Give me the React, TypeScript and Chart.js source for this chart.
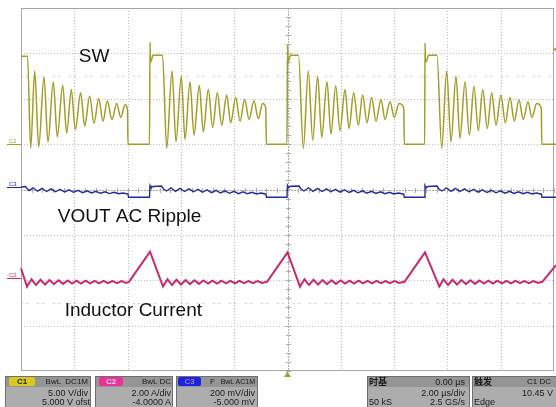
import React, { useEffect, useRef } from "react";
import { Chart, registerables } from "chart.js";

Chart.register(...registerables);

// ---- axes (µs and divisions) ----
const timeGrid = [-10, -8, -6, -4, -2, 0, 2, 4, 6, 8, 10]; // 2 µs/div
const divGrid = [-4, -3, -2, -1, 0, 1, 2, 3, 4];

// ---- channel settings ----
const c1VoltsPerDiv = 5; // SW
const c1GroundDiv = 1;
const c2AmpsPerDiv = 2; // inductor current
const c2OffsetA = -4;
const c3MvPerDiv = 200; // VOUT AC
const triggerLevelV = 10.45;

// ---- SW node voltage (C1) ----
const swTime = [
  -10.0, -9.756, -9.636, -9.486, -9.336, -9.137, -8.987, -8.788, -8.638, -8.435, -8.285, -8.113, -7.962, -7.76, -7.61,
  -7.422, -7.261, -7.084, -6.923, -6.762, -6.585, -6.409, -6.259, -6.086, -6.005, -5.985, -5.178,
  -5.159, -5.141, -5.084, -5.047, -4.69, -4.533, -4.334, -4.184, -3.985, -3.846, -3.659, -3.508, -3.31, -3.159, -2.972,
  -2.807, -2.634, -2.469, -2.281, -2.131, -1.944, -1.782, -1.606, -1.445, -1.257, -1.096, -0.931, -0.814, -0.795, -0.019,
  0.0, 0.019, 0.075, 0.113, 0.413, 0.593, 0.78, 0.946, 1.133, 1.283, 1.482, 1.632, 1.809, 1.97, 2.158, 2.308, 2.484,
  2.657, 2.822, 2.983, 3.159, 3.321, 3.508, 3.659, 3.846, 4.008, 4.184, 4.364, 4.383, 5.148,
  5.159, 5.178, 5.235, 5.291, 5.61, 5.786, 5.974, 6.135, 6.323, 6.473, 6.66, 6.822, 6.998, 7.16, 7.325, 7.497, 7.662,
  7.824, 8.011, 8.173, 8.349, 8.51, 8.687, 8.848, 9.024, 9.174, 9.351, 9.523, 9.542, 10.075,
];
const swVolt = [
  9.69, 9.69, -0.44, 8.07, -0.3, 7.41, 0.25, 6.86, 0.8, 6.5, 1.21, 6.02, 1.62, 5.65, 1.98, 5.29, 2.28, 5.03, 2.53, 4.74,
  2.72, 4.48, 2.94, 4.37, 3.74, 0, 0,
  11.23, 9.03, 9.47, 9.8, 9.8, -0.47, 8.07, 0.25, 7.49, 0.52, 6.86, 0.99, 6.5, 1.35, 6.02, 1.84, 5.65, 2.09, 5.4, 2.35,
  5.14, 2.53, 4.92, 2.72, 4.77, 2.79, 4.48, 3.96, 0, 0,
  10.9, 9.03, 9.47, 9.8, 9.8, -0.47, 8.07, 0.44, 7.49, 0.74, 6.86, 1.1, 6.42, 1.46, 6.02, 1.73, 5.65, 2.09, 5.4, 2.35,
  5.14, 2.53, 4.92, 2.72, 4.66, 2.94, 4.48, 3.96, 0, 0,
  11.16, 9.03, 9.25, 9.8, 9.8, -0.47, 8.07, 0.25, 7.49, 0.63, 6.86, 0.99, 6.39, 1.46, 6.02, 1.73, 5.65, 2.09, 5.4, 2.35,
  5.14, 2.53, 4.85, 2.72, 4.66, 2.94, 4.48, 3.96, 0, 0,
];

// ---- VOUT AC ripple (C3), mV ----
const voutTime = [
  -10.0, -9.831, -9.775, -9.7, -9.55, -9.381, -9.212, -9.043, -8.874, -8.705, -8.537, -8.368, -8.199, -8.03, -7.861,
  -7.692, -7.523, -7.355, -7.186, -7.017, -6.848, -6.679, -6.51, -6.341, -6.173, -5.985, -5.966, -5.178,
  -5.159, -5.122, -5.047, -4.728, -4.653, -4.54, -4.371, -4.203, -4.034, -3.865, -3.696, -3.527, -3.358, -3.189, -3.021,
  -2.852, -2.683, -2.514, -2.345, -2.176, -2.008, -1.839, -1.67, -1.501, -1.332, -1.163, -0.994, -0.807, -0.788, -0.019,
  0.0, 0.038, 0.113, 0.432, 0.507, 0.619, 0.788, 0.957, 1.126, 1.295, 1.463, 1.632, 1.801, 1.97, 2.139, 2.308, 2.477,
  2.645, 2.814, 2.983, 3.152, 3.321, 3.49, 3.659, 3.827, 3.996, 4.165, 4.364, 4.383, 5.148,
  5.159, 5.197, 5.272, 5.61, 5.685, 5.797, 5.966, 6.135, 6.304, 6.473, 6.642, 6.811, 6.979, 7.148, 7.317, 7.486, 7.655,
  7.824, 7.992, 8.161, 8.33, 8.499, 8.668, 8.837, 9.006, 9.174, 9.343, 9.531, 9.55, 10.075,
];
const voutMv = [
  11.0, 13.2, 4.4, -4.4, 7.5, -7.5, 5.3, -8.8, 3.1, -10.1, 0.9, -11.0, -1.3, -12.3, -3.5, -13.7, -5.7, -15.4, -7.9,
  -16.7, -10.1, -18.1, -12.3, -18.9, -15.4, -19.8, -34.4, -34.4,
  17.6, 8.8, 13.2, 15.4, 2.2, -6.6, 7.5, -7.9, 5.3, -8.8, 3.1, -10.1, 0.9, -12.3, -1.3, -13.7, -3.5, -15.4, -5.7, -16.7,
  -7.9, -18.1, -10.1, -18.9, -12.3, -19.8, -15.4, -20.7, -34.4, -34.4,
  17.6, 8.8, 14.1, 15.4, 2.2, -6.6, 7.5, -7.9, 5.3, -8.8, 3.1, -10.1, 0.9, -11.9, -1.3, -13.2, -3.5, -14.5, -5.7, -16.3,
  -7.9, -17.6, -10.1, -18.5, -12.3, -19.8, -15.4, -20.7, -34.4, -34.4,
  17.6, 8.8, 13.2, 15.4, 2.2, -6.6, 7.5, -7.9, 5.3, -8.8, 3.1, -10.1, 0.9, -11.9, -1.3, -13.2, -3.5, -14.5, -5.7, -16.3,
  -7.9, -17.6, -10.1, -18.5, -12.3, -19.8, -15.4, -20.7, -34.4, -34.4,
];

// ---- Inductor current (C2), A ----
const ilTime = [
  -10.0, -9.775, -9.606, -9.437, -9.268, -9.099, -8.931, -8.762, -8.593, -8.424, -8.255, -8.086, -7.917, -7.749, -7.58,
  -7.411, -7.242, -7.073, -6.904, -6.735, -6.567, -6.398, -6.229, -6.06, -5.947,
  -5.159, -4.672, -4.503, -4.334, -4.165, -3.996, -3.827, -3.659, -3.49, -3.321, -3.152, -2.983, -2.814, -2.645, -2.477,
  -2.308, -2.139, -1.97, -1.801, -1.632, -1.463, -1.295, -1.126, -0.957, -0.769,
  0.0, 0.469, 0.638, 0.807, 0.976, 1.144, 1.313, 1.482, 1.651, 1.82, 1.989, 2.158, 2.326, 2.495, 2.664, 2.833, 3.002,
  3.171, 3.34, 3.508, 3.677, 3.846, 4.015, 4.184, 4.39,
  5.159, 5.696, 5.854, 6.023, 6.191, 6.36, 6.529, 6.698, 6.867, 7.036, 7.205, 7.373, 7.542, 7.711, 7.88, 8.049, 8.218,
  8.386, 8.555, 8.724, 8.893, 9.062, 9.231, 9.4, 9.561, 10.075,
];
const ilAmp = [
  0.53, -0.28, 0.04, -0.21, 0.02, -0.19, 0.01, -0.17, 0.0, -0.16, -0.01, -0.15, -0.02, -0.15, -0.02, -0.14, -0.03,
  -0.14, -0.03, -0.13, -0.04, -0.13, -0.04, -0.12, -0.07,
  1.26, -0.28, 0.04, -0.21, 0.02, -0.19, 0.01, -0.17, 0.0, -0.16, -0.01, -0.15, -0.02, -0.15, -0.02, -0.14, -0.03,
  -0.14, -0.03, -0.13, -0.04, -0.13, -0.04, -0.12, -0.07,
  1.23, -0.28, 0.04, -0.21, 0.02, -0.19, 0.01, -0.17, 0.0, -0.16, -0.01, -0.15, -0.02, -0.15, -0.02, -0.14, -0.03,
  -0.14, -0.03, -0.13, -0.04, -0.13, -0.04, -0.12, -0.07,
  1.23, -0.28, 0.04, -0.21, 0.02, -0.19, 0.01, -0.17, 0.0, -0.16, -0.01, -0.15, -0.02, -0.15, -0.02, -0.14, -0.03,
  -0.14, -0.03, -0.13, -0.04, -0.13, -0.04, -0.12, -0.07, 0.67,
];

// ---- labels ----
const traceLabels = [
  { text: "SW", t: -7.83, div: 2.81 },
  { text: "VOUT AC Ripple", t: -8.62, div: -0.71 },
  { text: "Inductor Current", t: -8.36, div: -2.78 },
];

const COL_SW = "#a49c26";
const COL_VOUT = "#1f2d9c";
const COL_IL = "#c82a70";

const scopePlugin = {
  id: "scopeGrid",
  beforeDatasetsDraw(chart: any) {
    const { ctx, chartArea: a, scales } = chart;
    const xs = scales.x;
    const ys = scales.y;
    const px = (v: number) => Math.round(xs.getPixelForValue(v)) + 0.5;
    const py = (v: number) => Math.round(ys.getPixelForValue(v)) + 0.5;
    ctx.save();
    ctx.lineWidth = 1;
    // inner dotted grid
    ctx.strokeStyle = "#bdbdbd";
    ctx.setLineDash([1, 2]);
    timeGrid.slice(1, -1).forEach((t) => {
      if (t === 0) return;
      ctx.beginPath();
      ctx.moveTo(px(t), a.top);
      ctx.lineTo(px(t), a.bottom);
      ctx.stroke();
    });
    divGrid.slice(1, -1).forEach((d) => {
      if (d === 0) return;
      ctx.beginPath();
      ctx.moveTo(a.left, py(d));
      ctx.lineTo(a.right, py(d));
      ctx.stroke();
    });
    // half division dashed guides
    ctx.strokeStyle = "#cfcfcf";
    ctx.setLineDash([2, 3, 2, 9]);
    [2.5, -2.5].forEach((d) => {
      ctx.beginPath();
      ctx.moveTo(a.left, py(d));
      ctx.lineTo(a.right, py(d));
      ctx.stroke();
    });
    // center cross
    ctx.strokeStyle = "#ababab";
    ctx.setLineDash([2, 1]);
    ctx.beginPath();
    ctx.moveTo(px(0), a.top);
    ctx.lineTo(px(0), a.bottom);
    ctx.moveTo(a.left, py(0));
    ctx.lineTo(a.right, py(0));
    ctx.stroke();
    ctx.setLineDash([]);
    ctx.beginPath();
    for (let d = -4; d <= 4.001; d += 0.2) {
      const y = py(d);
      ctx.moveTo(px(0) - 2.5, y);
      ctx.lineTo(px(0) + 2.5, y);
    }
    for (let t = -10; t <= 10.001; t += 0.4) {
      const x = px(t);
      ctx.moveTo(x, py(0) - 2.5);
      ctx.lineTo(x, py(0) + 2.5);
    }
    ctx.stroke();
    // border
    ctx.strokeStyle = "#a6a6a6";
    ctx.strokeRect(Math.round(a.left) + 0.5, Math.round(a.top) + 0.5, Math.round(a.right - a.left) - 1, Math.round(a.bottom - a.top) - 1);
    ctx.restore();
  },
  afterDraw(chart: any) {
    const { ctx, chartArea: a, scales } = chart;
    const xs = scales.x;
    const ys = scales.y;
    ctx.save();
    // trace annotations
    ctx.fillStyle = "#111";
    ctx.font = '19px "Liberation Sans", Arial, sans-serif';
    ctx.textBaseline = "alphabetic";
    traceLabels.forEach((l) => ctx.fillText(l.text, xs.getPixelForValue(l.t), ys.getPixelForValue(l.div)));
    // channel markers
    const markers = [
      { name: "C1", div: c1GroundDiv, color: COL_SW },
      { name: "C3", div: 0.05, color: COL_VOUT },
      { name: "C2", div: -c2OffsetA / -c2AmpsPerDiv + 0.05, color: COL_IL },
    ];
    ctx.font = '6px "Liberation Sans", Arial, sans-serif';
    markers.forEach((m) => {
      const y = Math.round(ys.getPixelForValue(m.div)) + 0.5;
      ctx.fillStyle = m.color;
      ctx.fillText(m.name, 9, y - 2);
      ctx.strokeStyle = m.color;
      ctx.lineWidth = 1;
      ctx.beginPath();
      ctx.moveTo(7, y);
      ctx.lineTo(a.left, y);
      ctx.stroke();
    });
    // trigger position (bottom) and level (right)
    ctx.fillStyle = "#a59c22";
    const tx = xs.getPixelForValue(0);
    ctx.beginPath();
    ctx.moveTo(tx, a.bottom + 0.5);
    ctx.lineTo(tx - 3.5, a.bottom + 6);
    ctx.lineTo(tx + 3.5, a.bottom + 6);
    ctx.closePath();
    ctx.fill();
    const ly = ys.getPixelForValue(c1GroundDiv + triggerLevelV / c1VoltsPerDiv);
    ctx.beginPath();
    ctx.moveTo(a.right - 1, ly);
    ctx.lineTo(a.right + 3, ly - 2.5);
    ctx.lineTo(a.right + 3, ly + 2.5);
    ctx.closePath();
    ctx.fill();
    ctx.restore();
  },
};

const pts = (ts: number[], vs: number[], f: (v: number) => number) => ts.map((t, i) => ({ x: t, y: f(vs[i]) }));

const infoBoxes = [
  { x: 5, w: 86 },
  { x: 95, w: 78 },
  { x: 176, w: 82 },
  { x: 367, w: 103 },
  { x: 472, w: 90 },
];
const chips = [
  { x: 9, w: 26, text: "C1", bg: "#d9c81e", fg: "#222" },
  { x: 99, w: 24, text: "C2", bg: "#ea3398", fg: "#fde" },
  { x: 178, w: 23, text: "C3", bg: "#1d22e6", fg: "#88a" },
];
// [text, left or right edge, align, row, size, bold]
const infoTexts: [string, number, "l" | "r", number, number, boolean][] = [
  ["BwL  DC1M", 88, "r", 0, 8, false],
  ["5.00 V/div", 88, "r", 1, 9, false],
  ["5.000 V ofst", 90, "r", 2, 9, false],
  ["BwL DC", 171, "r", 0, 8, false],
  ["2.00 A/div", 171, "r", 1, 9, false],
  ["-4.0000 A", 171, "r", 2, 9, false],
  ["F", 210, "l", 0, 8, false],
  ["BwL AC1M", 255, "r", 0, 7, false],
  ["200 mV/div", 255, "r", 1, 9, false],
  ["-5.000 mV", 255, "r", 2, 9, false],
  ["时基", 369, "l", 0, 9, true],
  ["0.00 µs", 465, "r", 0, 9, false],
  ["2.00 µs/div", 465, "r", 1, 9, false],
  ["50 kS", 369, "l", 2, 9, false],
  ["2.5 GS/s", 465, "r", 2, 9, false],
  ["触发", 474, "l", 0, 9, true],
  ["C1 DC", 551, "r", 0, 8, false],
  ["10.45 V", 553, "r", 1, 9, false],
  ["Edge", 474, "l", 2, 9, false],
];
const rowTop = [377, 387.5, 397];

export default function App() {
  const ref = useRef<HTMLCanvasElement>(null);
  useEffect(() => {
    const chart = new Chart(ref.current as HTMLCanvasElement, {
      type: "line",
      data: {
        datasets: [
          {
            label: "SW",
            data: pts(swTime, swVolt, (v) => c1GroundDiv + v / c1VoltsPerDiv),
            borderColor: COL_SW,
            borderWidth: 1.5,
            pointRadius: 0,
            cubicInterpolationMode: "monotone",
            clip: false as any,
          },
          {
            label: "VOUT AC Ripple",
            data: pts(voutTime, voutMv, (v) => v / c3MvPerDiv),
            borderColor: COL_VOUT,
            borderWidth: 1.4,
            pointRadius: 0,
            tension: 0,
            clip: false as any,
          },
          {
            label: "Inductor Current",
            data: pts(ilTime, ilAmp, (v) => (v + c2OffsetA) / c2AmpsPerDiv),
            borderColor: COL_IL,
            borderWidth: 2,
            pointRadius: 0,
            tension: 0,
            clip: false as any,
          },
        ],
      },
      options: {
        animation: false,
        responsive: false,
        devicePixelRatio: 1,
        layout: { padding: { left: 21, right: 2, top: 8, bottom: 36 } },
        plugins: { legend: { display: false }, tooltip: { enabled: false } },
        events: [],
        scales: {
          x: { type: "linear", min: -10, max: 10, display: false },
          y: { type: "linear", min: -4, max: 4, display: false },
        },
      },
      plugins: [scopePlugin],
    } as any);
    return () => chart.destroy();
  }, []);

  return (
    <div
      style={{
        position: "absolute",
        left: 0,
        top: 0,
        width: 556,
        height: 407,
        overflow: "hidden",
        background: "#fff",
        fontFamily: '"Liberation Sans", Arial, "Noto Sans CJK SC", sans-serif',
      }}
    >
      <canvas ref={ref} width={556} height={407} style={{ position: "absolute", left: 0, top: 0 }} />
      {infoBoxes.map((b, i) => (
        <div
          key={"b" + i}
          style={{
            position: "absolute",
            left: b.x,
            top: 376,
            width: b.w,
            height: 34,
            boxSizing: "border-box",
            border: "1px solid #6f6f6f",
            background: "linear-gradient(#959595 0px, #959595 10px, #adadad 10px)",
          }}
        />
      ))}
      {chips.map((c, i) => (
        <div
          key={"c" + i}
          style={{
            position: "absolute",
            left: c.x,
            top: 377,
            width: c.w,
            height: 9,
            background: c.bg,
            borderRadius: 2,
            color: c.fg,
            fontSize: 8,
            fontWeight: 700,
            lineHeight: "9px",
            textAlign: "center",
          }}
        >
          {c.text}
        </div>
      ))}
      {infoTexts.map(([text, edge, align, row, size, bold], i) => (
        <div
          key={"t" + i}
          style={{
            position: "absolute",
            top: rowTop[row],
            ...(align === "r" ? { right: 556 - edge } : { left: edge }),
            fontSize: size,
            lineHeight: "10px",
            fontWeight: bold ? 700 : 400,
            color: "#1b1b1b",
            whiteSpace: "pre",
            fontFamily: bold ? '"Noto Sans CJK SC", sans-serif' : undefined,
          }}
        >
          {text}
        </div>
      ))}
    </div>
  );
}
